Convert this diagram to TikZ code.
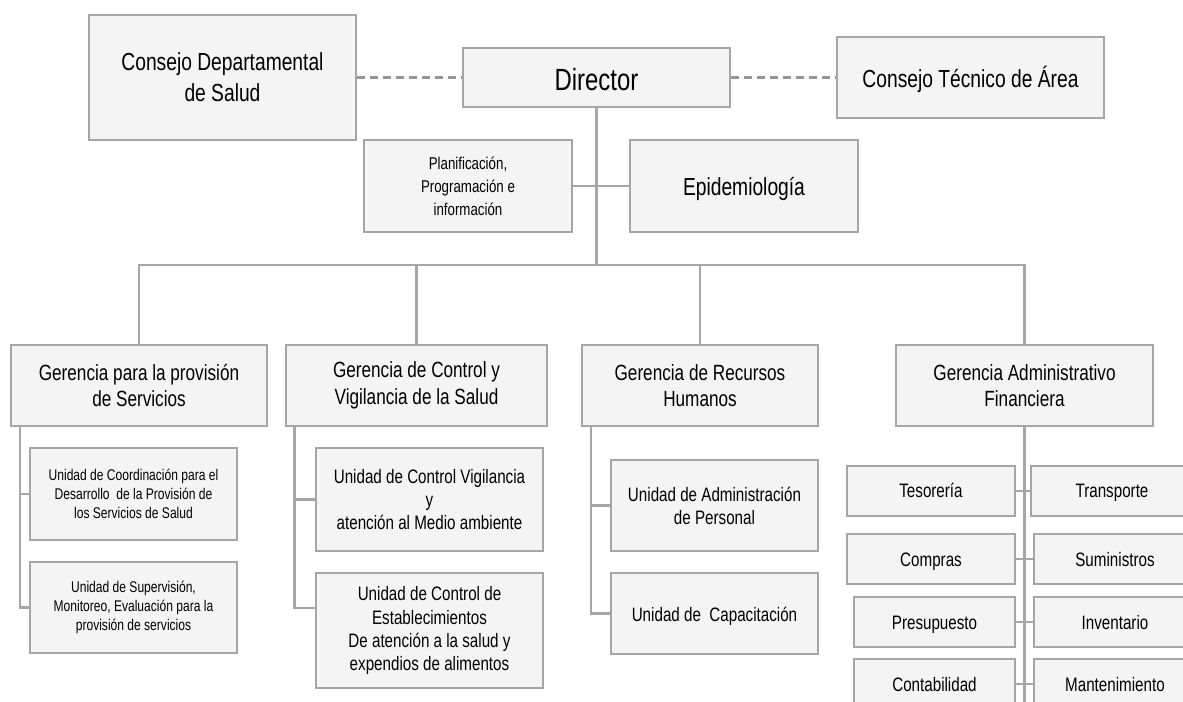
\documentclass[tikz,border=0pt]{standalone}
\usepackage{fontspec}
\setmainfont{Liberation Sans}[FakeStretch=0.78]
\definecolor{cajagris}{HTML}{F4F4F4}
\definecolor{bordegris}{HTML}{A6A6A6}

\begin{document}
\begin{tikzpicture}[x=0.75pt, y=-0.75pt,
  caja/.style={draw=bordegris, line width=1.6pt, fill=cajagris, align=center, inner sep=0pt},
  fila/.style={text height=#1, text depth=0pt},
  fdir/.style={font=\fontsize{23}{27}\selectfont},
  fgrande/.style={font=\fontsize{18.5}{23}\selectfont},
  fmedia/.style={font=\fontsize{16.5}{20}\selectfont},
  fchica/.style={font=\fontsize{14.6}{17.3}\selectfont},
  fplan/.style={font=\fontsize{12.8}{17.3}\selectfont},
  fmini/.style={font=\fontsize{11.6}{14.5}\selectfont},
  linea/.style={draw=bordegris, line width=2pt},
  punteada/.style={draw=bordegris!90!black, line width=1.8pt, dash pattern=on 6pt off 3.75pt}
]
\useasboundingbox (0,0) rectangle (1183,702);

% direccion
\node[caja, fgrande, minimum width=200pt, minimum height=94pt] (CD) at (222.5,77.5) {Consejo Departamental\\de Salud};
\node[caja, fdir, fila=19pt, minimum width=200pt, minimum height=44pt] (D) at (596.5,77.5) {Director};
\node[caja, fgrande, fila=14.5pt, minimum width=200pt, minimum height=61pt] (CT) at (970.5,77.5) {Consejo Técnico de Área};
\node[caja, fplan, minimum width=156pt, minimum height=69pt] (P) at (468,186) {Planificación,\\Programación e\\información};
\node[caja, fgrande, fila=14pt, minimum width=171pt, minimum height=69pt] (E) at (744,186) {Epidemiología};

% gerencias
\node[caja, fmedia, minimum width=192pt, minimum height=61pt] (G1) at (139,385.5) {Gerencia para la provisión\\de Servicios};
\node[caja, fmedia, minimum width=196pt, minimum height=61pt] (G2) at (416.5,385.5) {Gerencia de Control y\\Vigilancia de la Salud};
\node[caja, fmedia, minimum width=177pt, minimum height=61pt] (G3) at (700,385.5) {Gerencia de Recursos\\Humanos};
\node[caja, fmedia, minimum width=193pt, minimum height=61pt] (G4) at (1024.5,385.5) {Gerencia Administrativo\\Financiera};

% unidades
\node[caja, fmini, minimum width=155pt, minimum height=69pt] (U11) at (133.5,494) {Unidad de Coordinación para el\\Desarrollo~ de la Provisión de\\los Servicios de Salud};
\node[caja, fmini, minimum width=155pt, minimum height=68pt] (U12) at (133.5,607.5) {Unidad de Supervisión,\\Monitoreo, Evaluación para la\\provisión de servicios};
\node[caja, fchica, minimum width=170pt, minimum height=77pt] (U21) at (429.5,499.5) {Unidad de Control Vigilancia\\y\\atención al Medio ambiente};
\node[caja, fchica, minimum width=170pt, minimum height=86pt] (U22) at (429.5,630.5) {Unidad de Control de\\Establecimientos\\De atención a la salud y\\expendios de alimentos};
\node[caja, fchica, minimum width=155pt, minimum height=68pt] (U31) at (714.5,505.5) {Unidad de Administración\\de Personal};
\node[caja, fchica, fila=11.5pt, minimum width=155pt, minimum height=61pt] (U32) at (714.5,613.5) {Unidad de~ Capacitación};

% administrativo financiera
\node[caja, fchica, fila=10.5pt, minimum width=126pt, minimum height=37.5pt] (TES) at (931,491) {Tesorería};
\node[caja, fchica, fila=10.5pt, minimum width=126pt, minimum height=37.5pt] (COM) at (931,559) {Compras};
\node[caja, fchica, fila=10.5pt, minimum width=121pt, minimum height=37.5pt] (PRE) at (934.5,622) {Presupuesto};
\node[caja, fchica, fila=10.5pt, minimum width=121pt, minimum height=37.5pt] (CON) at (934.5,684) {Contabilidad};
\node[caja, fchica, fila=10.5pt, minimum width=121.5pt, minimum height=37.5pt] (TRA) at (1112,491) {Transporte};
\node[caja, fchica, fila=10.5pt, minimum width=121.5pt, minimum height=37.5pt] (SUM) at (1115,559) {Suministros};
\node[caja, fchica, fila=10.5pt, minimum width=121.5pt, minimum height=37.5pt] (INV) at (1115,622) {Inventario};
\node[caja, fchica, fila=10.5pt, minimum width=121.5pt, minimum height=37.5pt] (MAN) at (1115,684) {Mantenimiento};

% conexiones
\draw[punteada] (CD) -- (D);
\draw[punteada] (D) -- (CT);
\coordinate (bus) at (596.5,265);
\draw[linea] (D) -- (bus);
\draw[linea] (P) -- (E);
\draw[linea] (G1) |- (bus) -| (G4);
\draw[linea] (G2) -- (G2 |- bus);
\draw[linea] (G3) -- (G3 |- bus);

\coordinate (r1) at ([xshift=7.5pt]G1.south west);
\coordinate (r2) at ([xshift=7.5pt]G2.south west);
\coordinate (r3) at ([xshift=7.5pt]G3.south west);
\draw[linea] (r1) |- (U12);
\draw[linea] (U11) -- (U11 -| r1);
\draw[linea] (r2) |- (U22.west |- 0,608);
\draw[linea] (U21) -- (U21 -| r2);
\draw[linea] (r3) |- (U32);
\draw[linea] (U31) -- (U31 -| r3);

\draw[linea] (G4) -- (G4 |- MAN.south);
\draw[linea] (TES) -- (TRA);
\draw[linea] (COM) -- (SUM);
\draw[linea] (PRE) -- (INV);
\draw[linea] (CON) -- (MAN);
\end{tikzpicture}
\end{document}
